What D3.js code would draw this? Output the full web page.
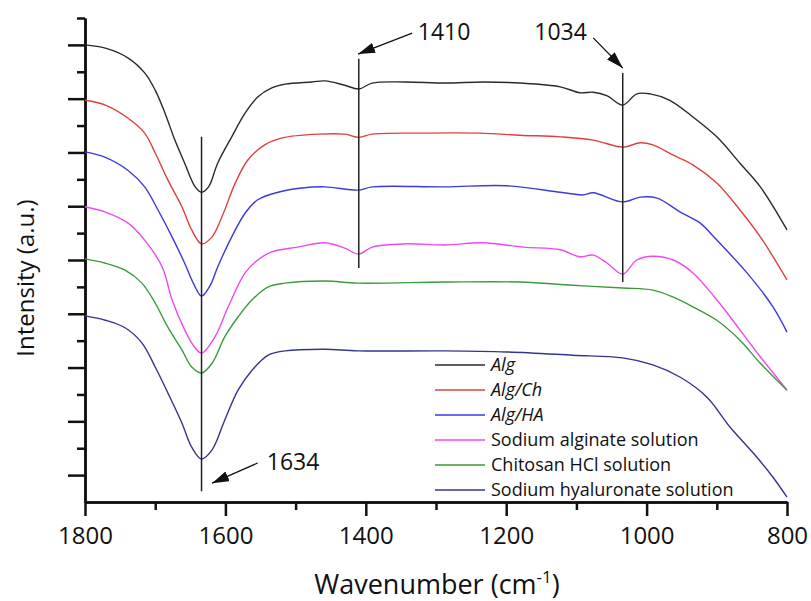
<!DOCTYPE html>
<html>
<head>
<meta charset="utf-8">
<script src="https://cdn.jsdelivr.net/npm/d3@7"></script>
<style>
  body { margin: 0; background: #fff; }
  svg { display: block; font-family: "Open Sans", sans-serif; }
</style>
</head>
<body>
<svg id="chart" width="811" height="601"></svg>
<script>
// FTIR spectra: [wavenumber (cm-1), intensity (a.u., stacked offsets)]
const alg = [
  [1800,8.50],[1771,8.44],[1739,8.26],[1715,7.98],[1700,7.66],[1686,7.23],[1672,6.73],
  [1658,6.30],[1643,5.86],[1634,5.76],[1624,5.86],[1611,6.30],[1591,6.79],[1572,7.23],
  [1554,7.53],[1534,7.70],[1515,7.77],[1477,7.81],[1458,7.83],[1430,7.75],[1410,7.68],
  [1391,7.79],[1344,7.81],[1287,7.79],[1233,7.81],[1180,7.79],[1123,7.72],[1095,7.61],
  [1076,7.62],[1056,7.55],[1034,7.38],[1014,7.59],[995,7.59],[967,7.47],[934,7.16],
  [900,6.79],[867,6.30],[838,5.86],[800,5.06]
];
const algCh = [
  [1800,7.47],[1771,7.38],[1739,7.14],[1715,6.86],[1700,6.49],[1682,5.99],[1662,5.49],
  [1648,5.06],[1634,4.80],[1619,4.93],[1605,5.30],[1586,5.93],[1568,6.36],[1544,6.64],
  [1519,6.77],[1468,6.84],[1430,6.84],[1410,6.78],[1391,6.84],[1326,6.86],[1237,6.86],
  [1180,6.82],[1123,6.79],[1076,6.73],[1034,6.60],[1009,6.68],[991,6.64],[962,6.45],
  [934,6.27],[900,5.93],[867,5.43],[838,4.93],[800,4.13]
];
const algHA = [
  [1800,6.51],[1771,6.41],[1739,6.17],[1715,5.86],[1696,5.43],[1676,4.93],[1658,4.44],
  [1645,4.05],[1634,3.83],[1622,4.02],[1611,4.37],[1591,4.93],[1572,5.37],[1554,5.62],
  [1525,5.76],[1491,5.84],[1458,5.86],[1410,5.80],[1391,5.86],[1287,5.86],[1199,5.88],
  [1123,5.76],[1091,5.71],[1076,5.75],[1034,5.58],[1009,5.67],[985,5.65],[952,5.39],
  [924,5.19],[900,4.87],[857,4.26],[820,3.63],[800,3.16]
];
const naAlginate = [
  [1800,5.49],[1771,5.39],[1739,5.19],[1715,4.87],[1690,4.37],[1676,3.76],[1658,3.20],
  [1645,2.90],[1634,2.77],[1615,3.07],[1596,3.63],[1572,4.26],[1554,4.50],[1534,4.65],
  [1497,4.74],[1458,4.82],[1430,4.72],[1410,4.61],[1391,4.74],[1344,4.80],[1287,4.78],
  [1233,4.82],[1176,4.74],[1123,4.69],[1095,4.56],[1076,4.59],[1056,4.44],[1034,4.24],
  [1014,4.50],[991,4.57],[962,4.50],[934,4.26],[900,3.76],[867,3.20],[838,2.70],[800,2.08]
];
const chitosanHCl = [
  [1800,4.52],[1771,4.44],[1743,4.31],[1719,4.07],[1700,3.70],[1682,3.25],[1662,2.83],
  [1648,2.51],[1634,2.40],[1619,2.58],[1601,3.07],[1582,3.44],[1562,3.76],[1539,4.00],
  [1515,4.07],[1458,4.11],[1411,4.07],[1287,4.09],[1180,4.09],[1105,4.03],[1034,3.98],
  [991,3.94],[962,3.81],[934,3.63],[900,3.38],[867,3.01],[838,2.58],[800,2.08]
];
const naHyaluronate = [
  [1800,3.46],[1771,3.38],[1743,3.24],[1719,2.96],[1700,2.51],[1682,2.03],[1662,1.47],
  [1648,1.02],[1634,0.80],[1619,0.97],[1601,1.52],[1582,2.08],[1562,2.45],[1539,2.73],
  [1515,2.81],[1458,2.84],[1411,2.81],[1287,2.81],[1199,2.79],[1105,2.73],[1034,2.68],
  [991,2.55],[952,2.32],[914,1.95],[881,1.39],[848,0.91],[820,0.46],[800,0.09]
];

const seriesNames = ["Alg", "Alg/Ch", "Alg/HA", "Sodium alginate solution",
                     "Chitosan HCl solution", "Sodium hyaluronate solution"];
const seriesItalic = [true, true, true, false, false, false];
const seriesColors = ["#2a2a2a", "#e0403c", "#3a3ae0", "#ee48ee", "#3d9a3d", "#35358f"];
const seriesData = [alg, algCh, algHA, naAlginate, chitosanHCl, naHyaluronate];

const xMajorTicks = [1800, 1600, 1400, 1200, 1000, 800];
const xMinorTicks = [1700, 1500, 1300, 1100, 900];
const yMajorTicks = [0.5, 1.5, 2.5, 3.5, 4.5, 5.5, 6.5, 7.5, 8.5];
const yMinorTicks = [1, 2, 3, 4, 5, 6, 7, 8, 9];

// Marked bands: vertical guide span and arrow (tail -> head) in data units
const bandWavenumbers = [1634, 1410, 1034];
const bandLineTop = [6.79, 8.24, 7.98];
const bandLineBottom = [0.20, 4.35, 4.09];
const bandArrowTail = [[1554, 0.725], [1334, 8.72], [1076, 8.63]];
const bandArrowHead = [[1619, 0.35], [1411, 8.33], [1034, 8.07]];
const bandLabelPos = [[1541, 0.595, "start"], [1326, 8.59, "start"], [1085, 8.59, "end"]];

const svg = d3.select("#chart");
const x = d3.scaleLinear().domain([1800, 800]).range([85, 787]);
const y = d3.scaleLinear().domain([0, 9]).range([502, 18]);

// Arrowhead marker
svg.append("defs").append("marker")
  .attr("id", "arrowhead")
  .attr("markerUnits", "userSpaceOnUse")
  .attr("viewBox", "0 0 16 10")
  .attr("refX", 16).attr("refY", 5)
  .attr("markerWidth", 17).attr("markerHeight", 11)
  .attr("orient", "auto")
  .append("path")
  .attr("d", "M0,0 L16,5 L0,10 Z")
  .attr("fill", "#111");

// Axes
const axisColor = "#111";
function styleAxis(g, width) {
  g.selectAll("path.domain").attr("stroke", axisColor).attr("stroke-width", width);
  g.selectAll(".tick line").attr("stroke", axisColor).attr("stroke-width", width);
}

const gxMinor = svg.append("g").attr("transform", "translate(0,502)")
  .call(d3.axisBottom(x).tickValues(xMinorTicks).tickSize(8).tickSizeOuter(0).tickFormat(""));
styleAxis(gxMinor, 2.5);
const gx = svg.append("g").attr("transform", "translate(0,502)")
  .call(d3.axisBottom(x).tickValues(xMajorTicks).tickSize(14).tickSizeOuter(0).tickPadding(11)
    .tickFormat(d3.format("d")));
styleAxis(gx, 2.5);
gx.selectAll(".tick text").attr("font-size", 24).attr("fill", "#111")
  .attr("font-family", "\"Open Sans\", sans-serif");

const gyMinor = svg.append("g").attr("transform", "translate(85,0)")
  .call(d3.axisLeft(y).tickValues(yMinorTicks).tickSize(8).tickSizeOuter(0).tickFormat(""));
styleAxis(gyMinor, 2.5);
const gy = svg.append("g").attr("transform", "translate(85,0)")
  .call(d3.axisLeft(y).tickValues(yMajorTicks).tickSize(17).tickSizeOuter(0).tickFormat(""));
styleAxis(gy, 2.5);

// Axis titles
const xTitle = svg.append("text")
  .attr("x", 437).attr("y", 594)
  .attr("text-anchor", "middle")
  .attr("font-size", 27).attr("fill", "#111");
xTitle.append("tspan").text("Wavenumber (cm");
xTitle.append("tspan").attr("font-size", 17).attr("dy", -11).text("-1");
xTitle.append("tspan").attr("dy", 11).text(")");

svg.append("text")
  .attr("transform", "translate(34,278) rotate(-90)")
  .attr("text-anchor", "middle")
  .attr("font-size", 24).attr("fill", "#111")
  .text("Intensity (a.u.)");

// Spectra
const line = d3.line()
  .x(d => x(d[0]))
  .y(d => y(d[1]))
  .curve(d3.curveCatmullRom.alpha(0.5));

seriesData.forEach((data, i) => {
  svg.append("path")
    .datum(data)
    .attr("fill", "none")
    .attr("stroke", seriesColors[i])
    .attr("stroke-width", 1.4)
    .attr("d", line);
});

// Band guides, arrows and labels
bandWavenumbers.forEach((wn, i) => {
  svg.append("line")
    .attr("x1", x(wn)).attr("x2", x(wn))
    .attr("y1", y(bandLineTop[i])).attr("y2", y(bandLineBottom[i]))
    .attr("stroke", "#222").attr("stroke-width", 1.5);
  svg.append("line")
    .attr("x1", x(bandArrowTail[i][0])).attr("y1", y(bandArrowTail[i][1]))
    .attr("x2", x(bandArrowHead[i][0])).attr("y2", y(bandArrowHead[i][1]))
    .attr("stroke", "#111").attr("stroke-width", 1.3)
    .attr("marker-end", "url(#arrowhead)");
  svg.append("text")
    .attr("x", x(bandLabelPos[i][0])).attr("y", y(bandLabelPos[i][1]))
    .attr("text-anchor", bandLabelPos[i][2])
    .attr("font-size", 23).attr("fill", "#111")
    .text(wn);
});

// Legend
const legend = svg.append("g").attr("transform", "translate(435,365)");
seriesNames.forEach((name, i) => {
  const row = legend.append("g").attr("transform", `translate(0,${i * 25})`);
  row.append("line")
    .attr("x1", 0).attr("x2", 50).attr("y1", 0).attr("y2", 0)
    .attr("stroke", seriesColors[i]).attr("stroke-width", 1.4);
  row.append("text")
    .attr("x", 56).attr("y", 0).attr("dy", "0.36em")
    .attr("font-size", 18).attr("fill", "#111")
    .attr("font-style", seriesItalic[i] ? "italic" : "normal")
    .text(name);
});
</script>
</body>
</html>
